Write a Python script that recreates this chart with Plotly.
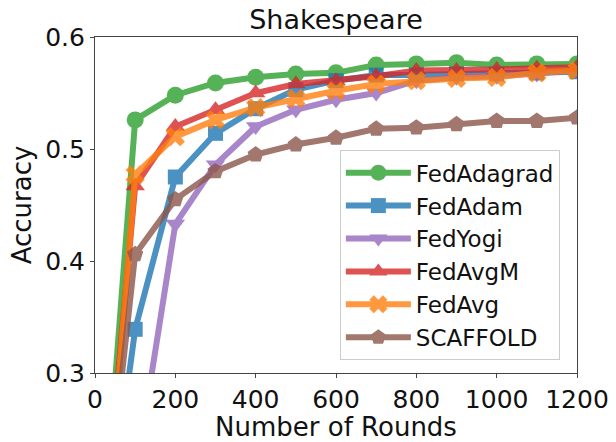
import plotly.graph_objects as go

rounds = [0, 100, 200, 300, 400, 500, 600, 700, 800, 900, 1000, 1100, 1200]

fedadagrad = [0.060, 0.526, 0.548, 0.559, 0.564, 0.567, 0.568, 0.575, 0.576, 0.577, 0.575, 0.576, 0.576]
fedadam = [0.073, 0.339, 0.475, 0.514, 0.536, 0.553, 0.561, 0.566, 0.566, 0.567, 0.567, 0.568, 0.569]
fedyogi = [0.070, 0.206, 0.433, 0.486, 0.520, 0.535, 0.544, 0.550, 0.561, 0.564, 0.565, 0.567, 0.570]
fedavgm = [0.069, 0.467, 0.520, 0.535, 0.550, 0.558, 0.561, 0.565, 0.570, 0.570, 0.571, 0.572, 0.573]
fedavg = [0.035, 0.477, 0.511, 0.526, 0.537, 0.545, 0.552, 0.558, 0.561, 0.563, 0.564, 0.568, 0.570]
scaffold = [0.080, 0.406, 0.455, 0.480, 0.495, 0.504, 0.510, 0.518, 0.519, 0.522, 0.525, 0.525, 0.528]

x_ticks = [0, 200, 400, 600, 800, 1000, 1200]
y_ticks = [0.3, 0.4, 0.5, 0.6]

series = [
    ("FedAdagrad", fedadagrad, "#2ca02c", "circle", 17),
    ("FedAdam", fedadam, "#1f77b4", "square", 15),
    ("FedYogi", fedyogi, "#9467bd", "triangle-down", 17),
    ("FedAvgM", fedavgm, "#d62728", "triangle-up", 17),
    ("FedAvg", fedavg, "#ff7f0e", "x", 17),
    ("SCAFFOLD", scaffold, "#8c564b", "pentagon", 17),
]

FONT = "DejaVu Sans, Liberation Sans, sans-serif"

fig = go.Figure()
for name, vals, color, symbol, size in series:
    fig.add_trace(go.Scatter(
        x=rounds, y=vals, name=name, mode="lines+markers",
        line=dict(color=color, width=6),
        marker=dict(symbol=symbol, size=size, color=color, line=dict(width=0)),
        opacity=0.8,
    ))

axis_common = dict(
    showgrid=False, zeroline=False, showline=True, mirror=True, automargin=False,
    linecolor="#444", linewidth=1.2, ticks="outside", ticklen=4,
    tickcolor="#444", tickfont=dict(size=25, color="#111", family=FONT),
)

fig.update_layout(
    width=616, height=442,
    margin=dict(l=95, r=39, t=37, b=69),
    paper_bgcolor="white", plot_bgcolor="white",
    font=dict(family=FONT, color="#111"),
    title=dict(text="Shakespeare", x=0.5, xref="paper", xanchor="center",
               y=1, yref="paper", yanchor="bottom", pad=dict(b=8),
               font=dict(size=27, family=FONT, color="#111")),
    xaxis=dict(range=[0, 1200], tickvals=x_ticks,
               title=dict(text="Number of Rounds", font=dict(size=26, family=FONT, color="#111"), standoff=4),
               **axis_common),
    yaxis=dict(range=[0.3, 0.6], tickvals=y_ticks, tickformat=".1f",
               title=dict(text="Accuracy", font=dict(size=26, family=FONT, color="#111"), standoff=6),
               **axis_common),
    legend=dict(x=0.508, y=0.663, xanchor="left", yanchor="top",
                bgcolor="rgba(255,255,255,0.8)", bordercolor="#ccc", borderwidth=1,
                font=dict(size=23, family=FONT, color="#111"),
                itemwidth=65),
)

fig.write_html("out.html")
